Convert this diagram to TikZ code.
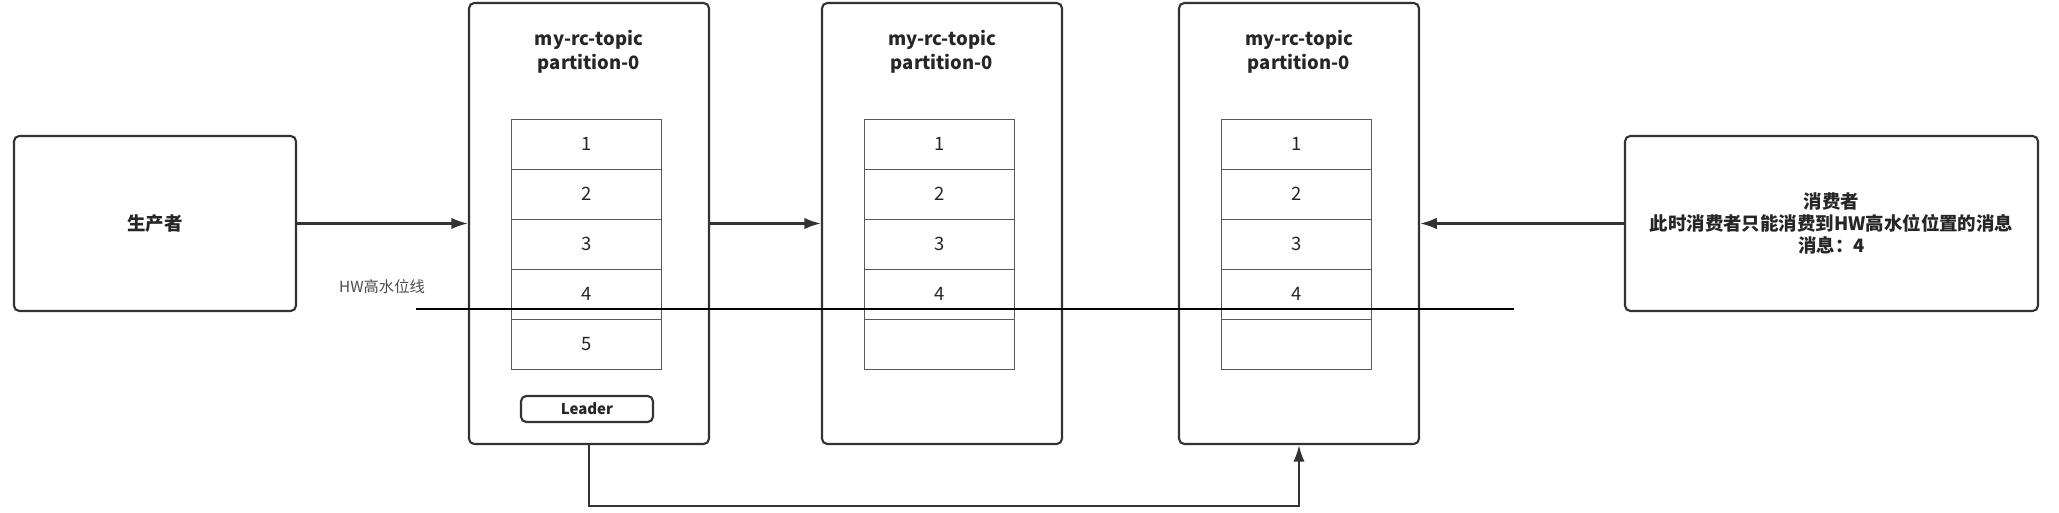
\documentclass[tikz,border=0pt]{standalone}
\usepackage{fontspec}
\setmainfont{Noto Sans CJK SC}
\usepackage{tikz}
\usetikzlibrary{arrows.meta,positioning}
\tikzstyle{arrow} = [line width=1.25pt,-{Latex[length=9.5pt,width=6.5pt]},draw=black!80]

\begin{document}
\begin{tikzpicture}
    \useasboundingbox (0,0) rectangle (41.18,-10.26);
    \tikzstyle{partition}=[draw=black!80,line width=1.2pt,rounded corners=3pt,minimum width=4.8cm,minimum height=8.82cm]
    \tikzstyle{client}=[draw=black!80,line width=1.2pt,rounded corners=3pt,minimum width=5.64cm,minimum height=3.5cm,align=center,text=black!85,font=\bfseries\fontsize{10.5}{12.5}\selectfont]
    \tikzstyle{title}=[align=center,text=black!85,font=\bfseries\fontsize{10.5}{13.5}\selectfont]
    \tikzstyle{cell}=[draw=black!65,line width=0.5pt,minimum width=3cm,minimum height=1cm,text=black!85,font=\fontsize{10.5}{12}\selectfont]
    \tikzstyle{leader}=[draw=black!80,line width=1.2pt,rounded corners=3pt,minimum width=2.64cm,minimum height=0.52cm,inner sep=0pt,text=black!85,font=\bfseries\fontsize{8.5}{10}\selectfont]

    % Draw the producer
    \node[client] (producer) at (3.10,-4.47) {生产者};

    % Draw the three copies of the partition
    \foreach \name / \x in {1/11.78,2/18.84,3/25.98}
    {
        \node[partition] (P-\name) at (\x,-4.47) {};
        \node[title] (T-\name) at (\x,-1.04) {my-rc-topic\\partition-0};
    }

    % Draw the message cells
    \foreach \name / \x in {1/11.73,2/18.79,3/25.93}
        \foreach \y in {1,2,3,4}
            \node[cell] (C-\name-\y) at (\x,-1.88-\y) {\y};
    \node[cell] (C-1-5) at (11.73,-6.88) {5};
    \node[cell] (C-2-5) at (18.79,-6.88) {};
    \node[cell] (C-3-5) at (25.93,-6.88) {};

    \node[leader] (L) at (11.74,-8.18) {Leader};

    % Draw the consumer
    \node[client, minimum width=8.26cm] (consumer) at (36.63,-4.47) {消费者\\此时消费者只能消费到HW高水位位置的消息\\消息：4};

    % The high watermark line
    \coordinate (hw-start) at (8.32,-6.18);
    \coordinate (hw-end) at (30.28,-6.18);
    \draw[line width=1.6pt,black] (hw-start) -- (hw-end);
    \node[text=black!70,font=\fontsize{8.7}{10}\selectfont] (hw) at (7.64,-5.74) {HW高水位线};

    % Connect the nodes
    \draw[arrow] (producer) -- (P-1);
    \draw[arrow] (P-1) -- (P-2);
    \draw[arrow] (consumer) -- (P-3);
    \draw[arrow] (P-1.south) -- ++(0,-1.22) -| (P-3.south);
\end{tikzpicture}
\end{document}
